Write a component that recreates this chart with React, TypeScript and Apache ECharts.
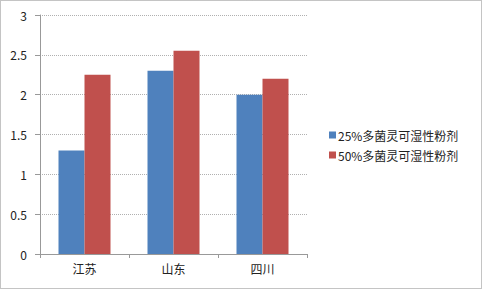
import React, { useEffect, useRef } from "react";
import * as echarts from "echarts";

const categories = ["江苏", "山东", "四川"];
const series25 = [1.3, 2.3, 2.0];
const series50 = [2.25, 2.55, 2.2];
const seriesNames = ["25%多菌灵可湿性粉剂", "50%多菌灵可湿性粉剂"];
const yTicks = { min: 0, max: 3, interval: 0.5 };

export default function App() {
  const ref = useRef<HTMLDivElement>(null);
  useEffect(() => {
    const chart = echarts.init(ref.current!, undefined, { renderer: "svg" });
    const font = "'Noto Sans CJK SC', sans-serif";
    chart.setOption({
      animation: false,
      backgroundColor: "#fff",
      textStyle: { fontFamily: font },
      graphic: [
        {
          type: "rect",
          shape: { x: 0.5, y: 0.5, width: 481, height: 288 },
          style: { fill: "none", stroke: "#888", lineWidth: 1, lineDash: [1, 1] },
          silent: true,
        },
      ],
      grid: { left: 40, top: 15, width: 267, height: 239 },
      legend: {
        orient: "vertical",
        left: 324,
        top: 124,
        itemWidth: 7,
        itemHeight: 7,
        itemGap: 8,
        icon: "rect",
        textStyle: { fontSize: 12, color: "#222", fontFamily: font, padding: [0, 0, 0, -3] },
        data: seriesNames,
      },
      xAxis: {
        type: "category",
        data: categories,
        axisLine: { lineStyle: { color: "#999" } },
        axisTick: { show: true, length: 4, lineStyle: { color: "#999" } },
        axisLabel: { fontSize: 12, color: "#222", margin: 8, fontFamily: font },
      },
      yAxis: {
        type: "value",
        min: yTicks.min,
        max: yTicks.max,
        interval: yTicks.interval,
        axisLine: { show: true, lineStyle: { color: "#999" } },
        axisTick: { show: true, length: 5, lineStyle: { color: "#999" } },
        axisLabel: { fontSize: 12, color: "#222", margin: 13, fontFamily: font },
        splitLine: { lineStyle: { color: "#b0b0b0", type: [1, 1] } },
      },
      series: [
        {
          name: seriesNames[0],
          type: "bar",
          data: series25,
          barWidth: 26,
          barGap: "0%",
          itemStyle: { color: "#4F81BD" },
        },
        {
          name: seriesNames[1],
          type: "bar",
          data: series50,
          barWidth: 26,
          barGap: "0%",
          itemStyle: { color: "#C0504D" },
        },
      ],
    });
    return () => chart.dispose();
  }, []);
  return (
    <div
      ref={ref}
      style={{ position: "fixed", left: 0, top: 0, width: 482, height: 289 }}
    />
  );
}
